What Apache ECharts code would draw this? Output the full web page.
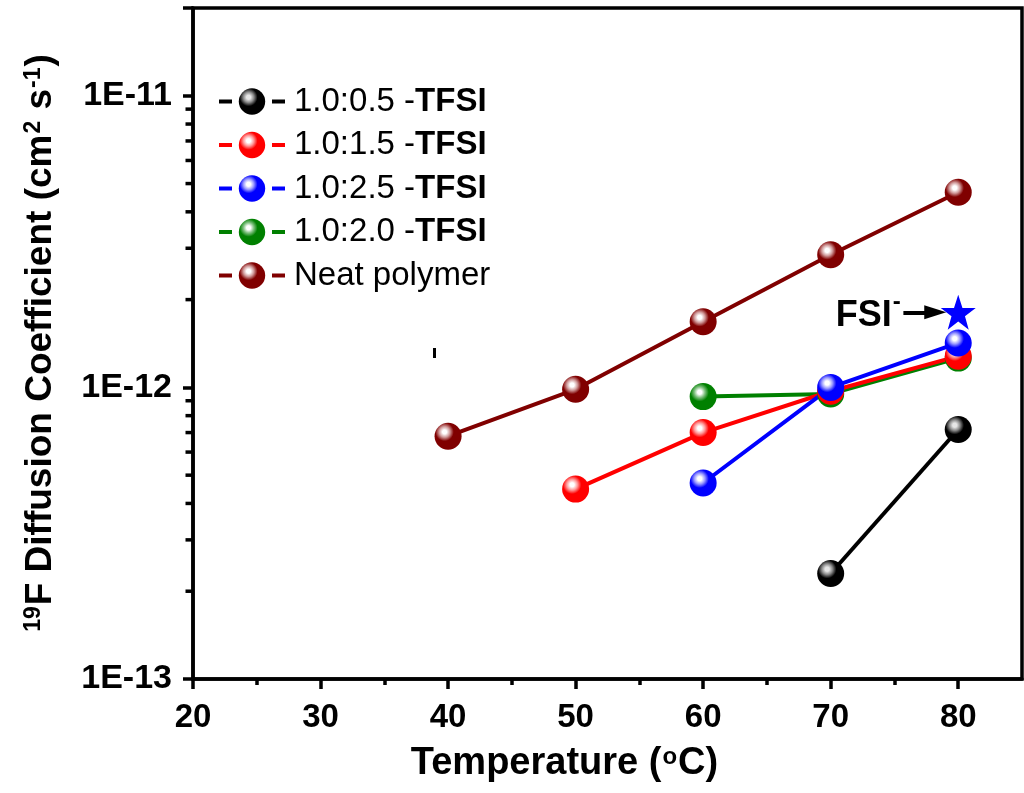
<!DOCTYPE html>
<html>
<head>
<meta charset="utf-8">
<title>19F Diffusion Coefficient vs Temperature</title>
<script src="https://cdn.jsdelivr.net/npm/echarts@6/dist/echarts.min.js"></script>
<style>
  html, body { margin: 0; padding: 0; background: #fff; }
  #chart { width: 1024px; height: 793px; }
</style>
</head>
<body>
<div id="chart"></div>
<script>
// Temperatures (°C) and 19F diffusion coefficients (cm^2 s^-1) per sample
const temps05 = [70, 80];
const values05 = [2.30e-13, 7.17e-13];

const temps15 = [50, 60, 70, 80];
const values15 = [4.48e-13, 7.0e-13, 9.7e-13, 1.28e-12];

const temps25 = [60, 70, 80];
const values25 = [4.70e-13, 1.0e-12, 1.42e-12];

const temps20 = [60, 70, 80];
const values20 = [9.3e-13, 9.5e-13, 1.26e-12];

const tempsNeat = [40, 50, 60, 70, 80];
const valuesNeat = [6.8e-13, 9.85e-13, 1.68e-12, 2.85e-12, 4.67e-12];

// FSI- reference point
const fsiTemp = 80;
const fsiValue = 1.81e-12;

// Axis ticks
const xMajorTicks = [20, 30, 40, 50, 60, 70, 80];
const xMinorTicks = [25, 35, 45, 55, 65, 75];
const yDecades = [-13, -12, -11];
const yMinorMultipliers = [2, 3, 4, 5, 6, 7, 8, 9];

const seriesNames = ['1.0:0.5 -TFSI', '1.0:1.5 -TFSI', '1.0:2.5 -TFSI', '1.0:2.0 -TFSI', 'Neat polymer'];

const FONT = '"Liberation Sans", Arial, sans-serif';

function pairs(xs, ys) { return xs.map((x, i) => [x, ys[i]]); }

// glossy sphere fill
function ball(base, light, hi) {
  return {
    type: 'radial', x: 0.37, y: 0.34, r: 0.55,
    colorStops: [
      { offset: 0, color: hi || '#ffffff' },
      { offset: 0.14, color: hi || '#ffffff' },
      { offset: 0.36, color: light },
      { offset: 0.62, color: base },
      { offset: 1, color: base }
    ]
  };
}

function lineSeries(name, xs, ys, color, light, hi) {
  return {
    name: name,
    type: 'line',
    data: pairs(xs, ys),
    symbol: 'circle',
    symbolSize: 27,
    showSymbol: true,
    lineStyle: { color: color, width: 4 },
    itemStyle: { color: ball(color, light, hi), borderWidth: 0 },
    emphasis: { disabled: true },
    animation: false,
    z: 3
  };
}

const minorTickData = [];
yDecades.slice(0, 2).forEach(e => {
  yMinorMultipliers.forEach(m => minorTickData.push([20, m * Math.pow(10, e)]));
});

const chart = echarts.init(document.getElementById('chart'), null, { renderer: 'canvas' });

const starPath = 'path://M50,0 L61.8,35.1 L98.9,35.1 L68.8,56.7 L79.4,91.9 L50,70.5 L20.6,91.9 L31.2,56.7 L1.1,35.1 L38.2,35.1 Z';

chart.setOption({
  backgroundColor: '#ffffff',
  animation: false,
  textStyle: { fontFamily: FONT },
  grid: {
    left: 193, right: 2, top: 8, bottom: 114,
    show: true, borderColor: '#000', borderWidth: 3.5, backgroundColor: 'transparent'
  },
  legend: {
    data: seriesNames,
    orient: 'vertical',
    left: 212,
    top: 80,
    itemWidth: 66,
    itemHeight: 33,
    itemGap: 10.5,
    selectedMode: false,
    lineStyle: { width: 4, type: [13, 40] },
    textStyle: {
      fontFamily: FONT,
      fontSize: 33,
      color: '#000',
      padding: [0, 0, 0, 4],
      rich: {
        n: { fontFamily: FONT, fontSize: 33, color: '#000' },
        b: { fontFamily: FONT, fontSize: 33, fontWeight: 'bold', color: '#000' }
      }
    },
    formatter: function (name) {
      const k = name.indexOf(' -');
      if (k >= 0) return '{n|' + name.slice(0, k) + ' -}{b|' + name.slice(k + 2) + '}';
      return '{n|' + name + '}';
    }
  },
  xAxis: [
    {
      type: 'value',
      min: 20, max: 85,
      interval: 10,
      name: '{t|Temperature (}{s|o}{t|C)}',
      nameLocation: 'middle',
      nameGap: 66,
      nameTextStyle: {
        padding: [0, 86, 0, 0],
        rich: {
          t: { fontFamily: FONT, fontSize: 38, fontWeight: 'bold', color: '#000' },
          s: { fontFamily: FONT, fontSize: 24, fontWeight: 'bold', color: '#000', verticalAlign: 'top', padding: [0, 1, 14, 1] }
        }
      },
      axisLine: { show: true, onZero: false, lineStyle: { color: '#000', width: 3.5 } },
      axisTick: { show: true, inside: false, length: 10, customValues: xMajorTicks, lineStyle: { color: '#000', width: 3.5 } },
      axisLabel: {
        customValues: xMajorTicks,
        margin: 22,
        fontFamily: FONT, fontSize: 33, fontWeight: 'bold', color: '#000'
      },
      splitLine: { show: false }
    },
    {
      type: 'value',
      min: 20, max: 85,
      position: 'bottom',
      axisLine: { show: false },
      axisTick: { show: true, inside: false, length: 6, customValues: xMinorTicks, lineStyle: { color: '#000', width: 3.5 } },
      axisLabel: { show: false },
      splitLine: { show: false }
    }
  ],
  yAxis: {
    type: 'log',
    logBase: 10,
    min: 1e-13,
    max: 2e-11,
    interval: 1,
    name: '{s|19}{t|F Diffusion Coefficient (cm}{s|2}{t| s}{s|-1}{t|)}',
    nameLocation: 'middle',
    nameGap: 134,
    nameRotate: 90,
    nameTextStyle: {
      rich: {
        t: { fontFamily: FONT, fontSize: 37, fontWeight: 'bold', color: '#000' },
        s: { fontFamily: FONT, fontSize: 23, fontWeight: 'bold', color: '#000', verticalAlign: 'top', padding: [0, 1, 14, 1] }
      }
    },
    axisLine: { show: true, onZero: false, lineStyle: { color: '#000', width: 3.5 } },
    axisTick: { show: true, inside: false, length: 10, lineStyle: { color: '#000', width: 3.5 } },
    axisLabel: {
      margin: 21,
      fontFamily: FONT, fontSize: 34, fontWeight: 'bold', color: '#000',
      formatter: function (v) {
        const e = Math.round(Math.log10(v));
        if (Math.abs(v / Math.pow(10, e) - 1) < 1e-6) return '1E' + e;
        return '';
      }
    },
    splitLine: { show: false },
    minorTick: { show: false }
  },
  graphic: [
    { type: 'rect', left: 433, top: 348, shape: { width: 3, height: 10 }, style: { fill: '#000' }, z: 10 }
  ],
  series: [
    // minor ticks of the log axis
    {
      type: 'custom',
      name: 'yMinorTicks',
      data: minorTickData,
      clip: false,
      silent: true,
      z: 5,
      renderItem: function (params, api) {
        const p = api.coord([api.value(0), api.value(1)]);
        return {
          type: 'line',
          shape: { x1: p[0] - 7.5, y1: p[1], x2: p[0], y2: p[1] },
          style: { stroke: '#000', lineWidth: 3.5 }
        };
      }
    },
    lineSeries(seriesNames[3], temps20, values20, '#008000', '#7fc07f'),
    lineSeries(seriesNames[1], temps15, values15, '#ff0000', '#ff9a9a'),
    lineSeries(seriesNames[2], temps25, values25, '#0000ff', '#9a9aff'),
    lineSeries(seriesNames[0], temps05, values05, '#000000', '#8a8a8a', '#e6e6e6'),
    lineSeries(seriesNames[4], tempsNeat, valuesNeat, '#800000', '#d09a9a'),
    {
      name: 'FSI',
      type: 'scatter',
      data: [[fsiTemp, fsiValue]],
      symbol: starPath,
      symbolSize: 35,
      itemStyle: { color: '#0000ff', opacity: 1 },
      z: 6,
      label: {
        show: true,
        position: 'left',
        distance: 40,
        formatter: '{a|FSI}{s|-}',
        rich: {
          a: { fontFamily: FONT, fontSize: 36, fontWeight: 'bold', color: '#000', padding: [8, 0, 0, 0] },
          s: { fontFamily: FONT, fontSize: 24, fontWeight: 'bold', color: '#000', verticalAlign: 'top', padding: [0, 0, 16, 1] }
        }
      },
      markLine: {
        silent: true,
        symbol: ['none', 'triangle'],
        symbolSize: [14, 22],
        label: { show: false },
        lineStyle: { color: '#000', width: 4, type: 'solid', opacity: 1 },
        data: [[{ coord: [75.7, fsiValue] }, { coord: [78.2, fsiValue] }]]
      }
    }
  ]
});
</script>
</body>
</html>
